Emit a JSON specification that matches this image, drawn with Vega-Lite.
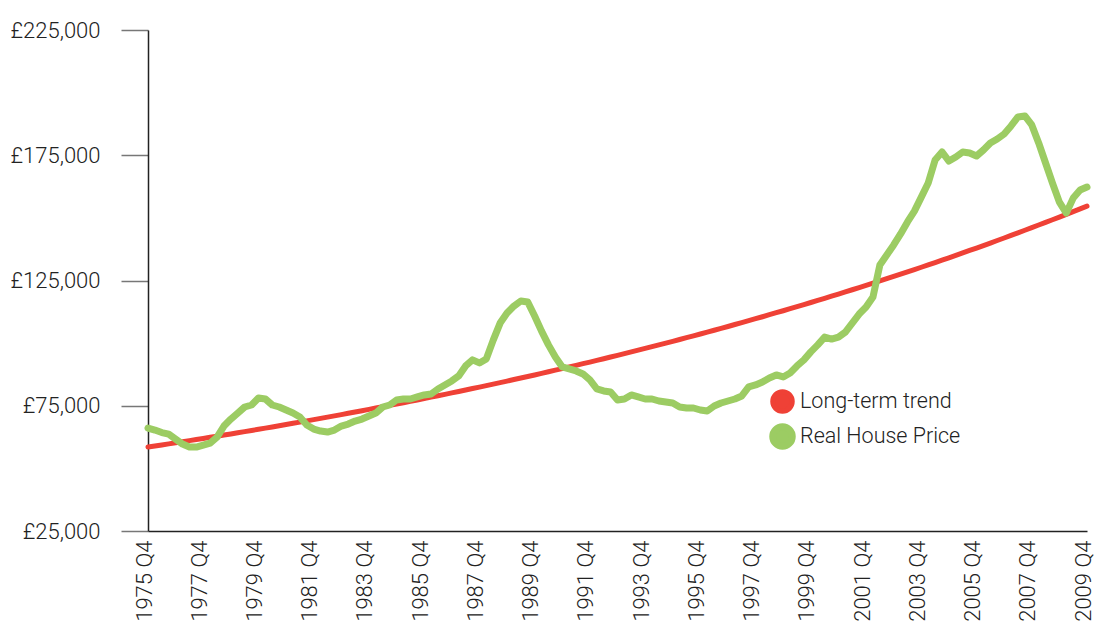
{
"$schema": "https://vega.github.io/schema/vega-lite/v6.json",
"width": 939, "height": 501,
"autosize": {"type": "none"},
"padding": {"left": 148, "top": 30, "right": 8, "bottom": 97},
"background": "white",
"config": {"view": {"stroke": null}, "font": "Roboto", "axis": {"grid": false}},
"data": {"values": [
{"q":"1975 Q4","t":58500,"p":66100},
{"q":"1976 Q1","t":58920,"p":65300},
{"q":"1976 Q2","t":59350,"p":64300},
{"q":"1976 Q3","t":59770,"p":63700},
{"q":"1976 Q4","t":60200,"p":61700},
{"q":"1977 Q1","t":60640,"p":59700},
{"q":"1977 Q2","t":61070,"p":58500},
{"q":"1977 Q3","t":61510,"p":58500},
{"q":"1977 Q4","t":61940,"p":59300},
{"q":"1978 Q1","t":62390,"p":60100},
{"q":"1978 Q2","t":62840,"p":62500},
{"q":"1978 Q3","t":63290,"p":66900},
{"q":"1978 Q4","t":63740,"p":69700},
{"q":"1979 Q1","t":64200,"p":72100},
{"q":"1979 Q2","t":64670,"p":74500},
{"q":"1979 Q3","t":65130,"p":75300},
{"q":"1979 Q4","t":65590,"p":78100},
{"q":"1980 Q1","t":66070,"p":77700},
{"q":"1980 Q2","t":66540,"p":75300},
{"q":"1980 Q3","t":67020,"p":74500},
{"q":"1980 Q4","t":67490,"p":73300},
{"q":"1981 Q1","t":67980,"p":72100},
{"q":"1981 Q2","t":68470,"p":70500},
{"q":"1981 Q3","t":68960,"p":67300},
{"q":"1981 Q4","t":69450,"p":65700},
{"q":"1982 Q1","t":69950,"p":64900},
{"q":"1982 Q2","t":70460,"p":64500},
{"q":"1982 Q3","t":70960,"p":65300},
{"q":"1982 Q4","t":71470,"p":66900},
{"q":"1983 Q1","t":71990,"p":67700},
{"q":"1983 Q2","t":72500,"p":68900},
{"q":"1983 Q3","t":73020,"p":69700},
{"q":"1983 Q4","t":73540,"p":70900},
{"q":"1984 Q1","t":74070,"p":72100},
{"q":"1984 Q2","t":74610,"p":74500},
{"q":"1984 Q3","t":75140,"p":75300},
{"q":"1984 Q4","t":75670,"p":77300},
{"q":"1985 Q1","t":76220,"p":77700},
{"q":"1985 Q2","t":76770,"p":77700},
{"q":"1985 Q3","t":77320,"p":78500},
{"q":"1985 Q4","t":77870,"p":79300},
{"q":"1986 Q1","t":78430,"p":79700},
{"q":"1986 Q2","t":79000,"p":81700},
{"q":"1986 Q3","t":79560,"p":83300},
{"q":"1986 Q4","t":80130,"p":84900},
{"q":"1987 Q1","t":80710,"p":86900},
{"q":"1987 Q2","t":81290,"p":90900},
{"q":"1987 Q3","t":81870,"p":93300},
{"q":"1987 Q4","t":82450,"p":92100},
{"q":"1988 Q1","t":83050,"p":93700},
{"q":"1988 Q2","t":83650,"p":101200},
{"q":"1988 Q3","t":84240,"p":108000},
{"q":"1988 Q4","t":84840,"p":112000},
{"q":"1989 Q1","t":85460,"p":114800},
{"q":"1989 Q2","t":86070,"p":116800},
{"q":"1989 Q3","t":86690,"p":116400},
{"q":"1989 Q4","t":87300,"p":110800},
{"q":"1990 Q1","t":87940,"p":104800},
{"q":"1990 Q2","t":88570,"p":99300},
{"q":"1990 Q3","t":89200,"p":94500},
{"q":"1990 Q4","t":89840,"p":90500},
{"q":"1991 Q1","t":90490,"p":89700},
{"q":"1991 Q2","t":91140,"p":88900},
{"q":"1991 Q3","t":91790,"p":87700},
{"q":"1991 Q4","t":92440,"p":85300},
{"q":"1992 Q1","t":93110,"p":81700},
{"q":"1992 Q2","t":93780,"p":80900},
{"q":"1992 Q3","t":94450,"p":80500},
{"q":"1992 Q4","t":95120,"p":77300},
{"q":"1993 Q1","t":95810,"p":77700},
{"q":"1993 Q2","t":96500,"p":79300},
{"q":"1993 Q3","t":97190,"p":78500},
{"q":"1993 Q4","t":97880,"p":77700},
{"q":"1994 Q1","t":98590,"p":77700},
{"q":"1994 Q2","t":99300,"p":76900},
{"q":"1994 Q3","t":100010,"p":76500},
{"q":"1994 Q4","t":100720,"p":76100},
{"q":"1995 Q1","t":101450,"p":74500},
{"q":"1995 Q2","t":102180,"p":74100},
{"q":"1995 Q3","t":102920,"p":74100},
{"q":"1995 Q4","t":103650,"p":73300},
{"q":"1996 Q1","t":104400,"p":72900},
{"q":"1996 Q2","t":105150,"p":74900},
{"q":"1996 Q3","t":105900,"p":76100},
{"q":"1996 Q4","t":106650,"p":76900},
{"q":"1997 Q1","t":107430,"p":77700},
{"q":"1997 Q2","t":108200,"p":78900},
{"q":"1997 Q3","t":108970,"p":82500},
{"q":"1997 Q4","t":109750,"p":83300},
{"q":"1998 Q1","t":110540,"p":84500},
{"q":"1998 Q2","t":111340,"p":86100},
{"q":"1998 Q3","t":112140,"p":87300},
{"q":"1998 Q4","t":112930,"p":86500},
{"q":"1999 Q1","t":113750,"p":88100},
{"q":"1999 Q2","t":114570,"p":90900},
{"q":"1999 Q3","t":115390,"p":93300},
{"q":"1999 Q4","t":116210,"p":96500},
{"q":"2000 Q1","t":117050,"p":99300},
{"q":"2000 Q2","t":117890,"p":102400},
{"q":"2000 Q3","t":118740,"p":101600},
{"q":"2000 Q4","t":119580,"p":102400},
{"q":"2001 Q1","t":120450,"p":104400},
{"q":"2001 Q2","t":121310,"p":108000},
{"q":"2001 Q3","t":122180,"p":111600},
{"q":"2001 Q4","t":123050,"p":114400},
{"q":"2002 Q1","t":123940,"p":118400},
{"q":"2002 Q2","t":124830,"p":131200},
{"q":"2002 Q3","t":125730,"p":135200},
{"q":"2002 Q4","t":126620,"p":139200},
{"q":"2003 Q1","t":127540,"p":143600},
{"q":"2003 Q2","t":128460,"p":148400},
{"q":"2003 Q3","t":129370,"p":152700},
{"q":"2003 Q4","t":130290,"p":158300},
{"q":"2004 Q1","t":131240,"p":163900},
{"q":"2004 Q2","t":132180,"p":173100},
{"q":"2004 Q3","t":133130,"p":176300},
{"q":"2004 Q4","t":134070,"p":172700},
{"q":"2005 Q1","t":135040,"p":174300},
{"q":"2005 Q2","t":136010,"p":176300},
{"q":"2005 Q3","t":136990,"p":175900},
{"q":"2005 Q4","t":137960,"p":174700},
{"q":"2006 Q1","t":138960,"p":177100},
{"q":"2006 Q2","t":139960,"p":179900},
{"q":"2006 Q3","t":140960,"p":181500},
{"q":"2006 Q4","t":141960,"p":183500},
{"q":"2007 Q1","t":142990,"p":186700},
{"q":"2007 Q2","t":144020,"p":190300},
{"q":"2007 Q3","t":145050,"p":190700},
{"q":"2007 Q4","t":146080,"p":187100},
{"q":"2008 Q1","t":147140,"p":179900},
{"q":"2008 Q2","t":148200,"p":171900},
{"q":"2008 Q3","t":149260,"p":163900},
{"q":"2008 Q4","t":150320,"p":156300},
{"q":"2009 Q1","t":151410,"p":151900},
{"q":"2009 Q2","t":152500,"p":157900},
{"q":"2009 Q3","t":153590,"p":161100},
{"q":"2009 Q4","t":154680,"p":162300}
]},
"transform": [{"fold": ["t", "p"], "as": ["series", "value"]}],
"mark": {"type": "line", "strokeCap": "round", "strokeJoin": "round"},
"encoding": {
  "x": {"field": "q", "type": "ordinal", "sort": null,
    "scale": {"type": "point", "padding": 0},
    "axis": {"title": null,
      "values": ["1975 Q4","1977 Q4","1979 Q4","1981 Q4","1983 Q4","1985 Q4","1987 Q4","1989 Q4","1991 Q4","1993 Q4","1995 Q4","1997 Q4","1999 Q4","2001 Q4","2003 Q4","2005 Q4","2007 Q4","2009 Q4"],
      "labelAngle": -90, "labelFontSize": 22, "labelFont": "Roboto", "labelFontWeight": 300, "labelColor": "#222",
      "labelOffset": -4, "labelBound": false, "labelOverlap": false,
      "ticks": false, "tickSize": 0, "labelPadding": 9, "domainColor": "#222", "domainWidth": 1.5}},
  "y": {"field": "value", "type": "quantitative",
    "scale": {"domain": [25000, 225000], "nice": false, "zero": false},
    "axis": {"title": null, "values": [25000, 75000, 125000, 175000, 225000],
      "labelExpr": "'£' + format(datum.value, ',')",
      "tickSize": 27, "tickColor": "#777", "tickWidth": 1.5, "labelPadding": 21,
      "labelFontSize": 22, "labelFont": "Roboto", "labelFontWeight": 300, "labelColor": "#222",
      "domainColor": "#222", "domainWidth": 1.5}},
  "color": {"field": "series", "type": "nominal",
    "scale": {"domain": ["t", "p"], "range": ["#EF4136", "#9CCC63"]},
    "legend": {"orient": "none", "legendX": 621, "legendY": 359, "title": null,
      "symbolType": "circle", "symbolSize": 380, "symbolStrokeWidth": 0,
      "labelFontSize": 21.5, "labelFont": "Roboto", "labelFontWeight": 300, "labelColor": "#222",
      "labelOffset": 4, "labelLimit": 400, "rowPadding": -10, "padding": 0,
      "labelExpr": "datum.label == 't' ? 'Long-term trend' : 'Real House Price'",
      "encode": {"symbols": {"update": {"fill": {"scale": "color", "field": "value"}, "fillOpacity": {"value": 1}, "strokeWidth": {"value": 0}}}}}},
  "strokeWidth": {"field": "series", "type": "nominal",
    "scale": {"domain": ["t", "p"], "range": [5, 7]}, "legend": null}
}
}
